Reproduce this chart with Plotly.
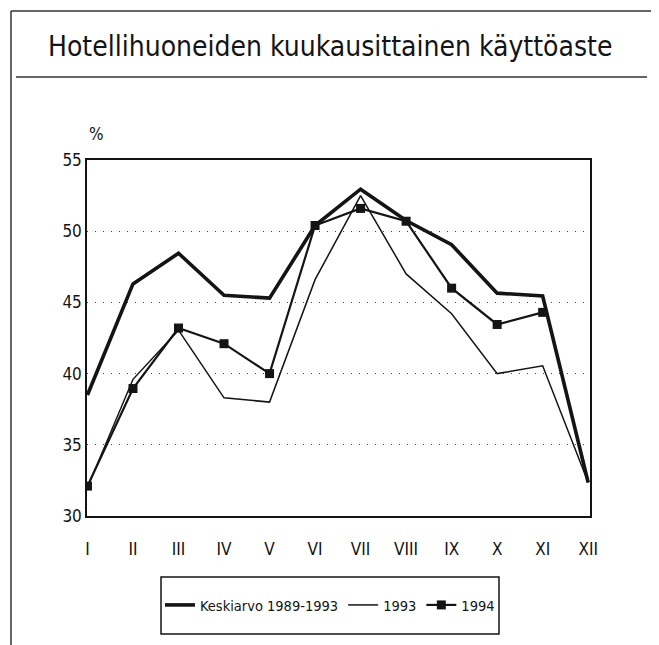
import plotly.graph_objects as go

months = ["I", "II", "III", "IV", "V", "VI", "VII", "VIII", "IX", "X", "XI", "XII"]
keskiarvo = [38.5, 46.3, 48.45, 45.5, 45.3, 50.4, 52.95, 50.75, 49.05, 45.65, 45.45, 32.35]
v1993 = [32.0, 39.6, 43.05, 38.3, 38.0, 46.6, 52.5, 47.0, 44.2, 40.0, 40.55, 32.35]
v1994 = [32.1, 38.95, 43.2, 42.1, 40.0, 50.4, 51.6, 50.7, 46.0, 43.45, 44.3]

y_ticks = [30, 35, 40, 45, 50, 55]

FONT = "Liberation Sans Narrow, Arial Narrow, DejaVu Sans Condensed, Roboto Condensed, Liberation Sans, Arial, sans-serif"
INK = "#141414"

# the page has an 8px body margin: the figure is drawn 8px in from the window corner
OFF = 8
W, H = 659 - OFF, 645 - OFF
L, R, T, B = 87 - OFF, 590 - OFF, 160 - OFF, 516 - OFF


def px(x):
    return (x - OFF - L) / (R - L)


def py(y):
    return (B - (y - OFF)) / (B - T)


fig = go.Figure()
fig.add_trace(go.Scatter(x=months, y=keskiarvo, name="Keskiarvo 1989-1993", mode="lines",
                         line=dict(color=INK, width=3.6)))
fig.add_trace(go.Scatter(x=months, y=v1993, name="1993", mode="lines",
                         line=dict(color=INK, width=1.5)))
fig.add_trace(go.Scatter(x=months[:len(v1994)], y=v1994, name="1994", mode="lines+markers",
                         line=dict(color=INK, width=2.2),
                         marker=dict(symbol="square", size=9, color=INK)))

shapes = [
    # outer frame (left, top, right)
    dict(type="line", xref="paper", yref="paper", x0=px(11), x1=px(11), y0=py(11), y1=py(660),
         line=dict(color="#333", width=1.5)),
    dict(type="line", xref="paper", yref="paper", x0=px(11), x1=px(652), y0=py(11), y1=py(11),
         line=dict(color="#333", width=1.5)),
    dict(type="line", xref="paper", yref="paper", x0=px(652), x1=px(652), y0=py(11), y1=py(660),
         line=dict(color="#333", width=1.5)),
    # line under title
    dict(type="line", xref="paper", yref="paper", x0=px(16), x1=px(647), y0=py(77), y1=py(77),
         line=dict(color="#333", width=1.5)),
    # legend box
    dict(type="rect", xref="paper", yref="paper", x0=px(161), x1=px(499), y0=py(577), y1=py(634),
         line=dict(color=INK, width=1.5), fillcolor="rgba(0,0,0,0)"),
]

annotations = [
    dict(text="Hotellihuoneiden kuukausittainen käyttöaste", xref="paper", yref="paper",
         x=px(330), y=py(46), xanchor="center", yanchor="middle", showarrow=False,
         font=dict(family=FONT, size=28, color=INK)),
    dict(text="%", xref="paper", yref="paper", x=px(96), y=py(134), xanchor="center", yanchor="middle",
         showarrow=False, font=dict(family=FONT, size=17, color=INK)),
]

fig.update_layout(
    width=W, height=H,
    margin=dict(l=L, r=W - R, t=T, b=H - B, autoexpand=False),
    paper_bgcolor="white", plot_bgcolor="white",
    font=dict(family=FONT, size=17, color=INK),
    showlegend=True,
    legend=dict(orientation="h", x=px(330), xanchor="center", y=py(605), yanchor="middle",
                borderwidth=0, bgcolor="rgba(0,0,0,0)",
                font=dict(family=FONT, size=14.5, color=INK), itemwidth=30,
                tracegroupgap=0),
    shapes=shapes,
    annotations=annotations,
    xaxis=dict(range=[-0.01, 11.04], showgrid=False, showline=True, linecolor=INK, linewidth=1.5,
               mirror=True, ticks="", ticklen=0, ticklabelstandoff=17, tickfont=dict(size=17),
               zeroline=False),
    yaxis=dict(range=[30, 55], tickvals=y_ticks, showgrid=True, gridcolor="#444", gridwidth=1.4,
               griddash="1px,7px", showline=True, linecolor=INK, linewidth=1.5, mirror=True,
               ticks="", ticklen=0, ticklabelstandoff=0, tickfont=dict(size=17), zeroline=False),
)

fig.write_html("out.html")
